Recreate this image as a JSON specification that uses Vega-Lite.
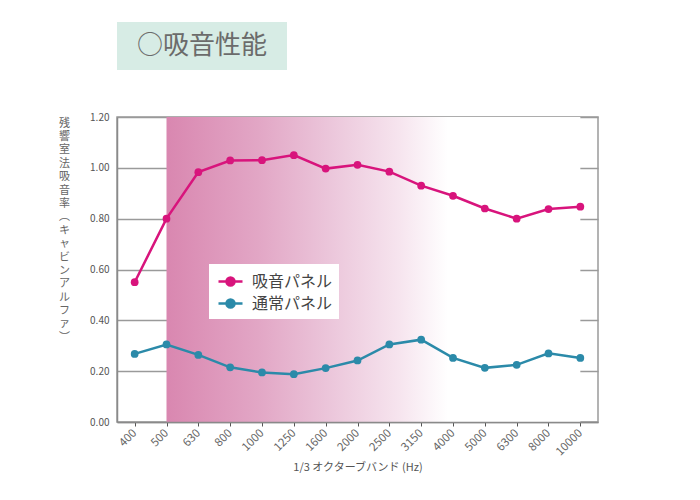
{
  "$schema": "https://vega.github.io/schema/vega-lite/v6.json",
  "background": "white",
  "padding": {"left": 57, "top": 22, "right": 5, "bottom": 5},
  "spacing": 41,
  "config": {
    "font": "Noto Sans CJK JP",
    "view": {"stroke": "#9a9a9a", "strokeWidth": 1.5}
  },
  "datasets": {
    "absorb": [
      {"band": "400", "panel": "吸音パネル", "alpha": 0.55},
      {"band": "500", "panel": "吸音パネル", "alpha": 0.80},
      {"band": "630", "panel": "吸音パネル", "alpha": 0.983},
      {"band": "800", "panel": "吸音パネル", "alpha": 1.029},
      {"band": "1000", "panel": "吸音パネル", "alpha": 1.03},
      {"band": "1250", "panel": "吸音パネル", "alpha": 1.05},
      {"band": "1600", "panel": "吸音パネル", "alpha": 0.997},
      {"band": "2000", "panel": "吸音パネル", "alpha": 1.012},
      {"band": "2500", "panel": "吸音パネル", "alpha": 0.985},
      {"band": "3150", "panel": "吸音パネル", "alpha": 0.93},
      {"band": "4000", "panel": "吸音パネル", "alpha": 0.89},
      {"band": "5000", "panel": "吸音パネル", "alpha": 0.84},
      {"band": "6300", "panel": "吸音パネル", "alpha": 0.80},
      {"band": "8000", "panel": "吸音パネル", "alpha": 0.838},
      {"band": "10000", "panel": "吸音パネル", "alpha": 0.847},
      {"band": "400", "panel": "通常パネル", "alpha": 0.268},
      {"band": "500", "panel": "通常パネル", "alpha": 0.305},
      {"band": "630", "panel": "通常パネル", "alpha": 0.264},
      {"band": "800", "panel": "通常パネル", "alpha": 0.215},
      {"band": "1000", "panel": "通常パネル", "alpha": 0.195},
      {"band": "1250", "panel": "通常パネル", "alpha": 0.188},
      {"band": "1600", "panel": "通常パネル", "alpha": 0.212},
      {"band": "2000", "panel": "通常パネル", "alpha": 0.242},
      {"band": "2500", "panel": "通常パネル", "alpha": 0.305},
      {"band": "3150", "panel": "通常パネル", "alpha": 0.324},
      {"band": "4000", "panel": "通常パネル", "alpha": 0.252},
      {"band": "5000", "panel": "通常パネル", "alpha": 0.213},
      {"band": "6300", "panel": "通常パネル", "alpha": 0.225},
      {"band": "8000", "panel": "通常パネル", "alpha": 0.27},
      {"band": "10000", "panel": "通常パネル", "alpha": 0.252}
    ],
    "shade": [{"from": "500", "to": "10000"}],
    "heading": [{"heading": "○吸音性能"}]
  },
  "vconcat": [
    {
      "width": 170,
      "height": 48,
      "view": {"fill": "#d7ece5", "stroke": null},
      "data": {"name": "heading"},
      "mark": {"type": "text", "fontSize": 26, "color": "#6b6b6b", "align": "center", "baseline": "middle"},
      "encoding": {"text": {"field": "heading"}}
    },
    {
      "width": 481,
      "height": 305,
      "encoding": {
        "x": {
          "field": "band",
          "type": "ordinal",
          "sort": null,
          "scale": {"type": "point", "padding": 0.555, "domain": ["400", "500", "630", "800", "1000", "1250", "1600", "2000", "2500", "3150", "4000", "5000", "6300", "8000", "10000"]},
          "axis": {
            "title": "1/3 オクターブバンド (Hz)",
            "titleFontSize": 11,
            "titleFontWeight": "normal",
            "titleColor": "#555555",
            "titlePadding": 4,
            "labelAngle": -45,
            "labelAlign": "right",
            "labelBaseline": "middle",
            "labelFontSize": 11.5,
            "labelColor": "#666666",
            "labelPadding": 5,
            "domainColor": "#8a8a8a",
            "domainWidth": 1.5,
            "tickColor": "#555555",
            "tickSize": 4,
            "grid": false
          }
        }
      },
      "layer": [
        {
          "data": {"name": "shade"},
          "mark": {
            "type": "rect",
            "fill": {
              "gradient": "linear",
              "x1": 0, "y1": 0, "x2": 1, "y2": 0,
              "stops": [
                {"offset": 0, "color": "#d987b0"},
                {"offset": 0.22, "color": "#e2a6c5"},
                {"offset": 0.39, "color": "#ebc5da"},
                {"offset": 0.56, "color": "#f6e4ee"},
                {"offset": 0.68, "color": "#ffffff"},
                {"offset": 1, "color": "#ffffff"}
              ]
            }
          },
          "encoding": {
            "x": {"field": "from", "type": "ordinal"},
            "x2": {"field": "to"}
          }
        },
        {
          "data": {"name": "absorb"},
          "mark": {"type": "line", "strokeWidth": 2.5, "point": {"filled": true, "size": 60, "opacity": 1}},
          "encoding": {
            "y": {
              "field": "alpha",
              "type": "quantitative",
              "scale": {"domain": [0, 1.2], "nice": false},
              "axis": {
                "values": [0, 0.2, 0.4, 0.6, 0.8, 1.0, 1.2],
                "format": ".2f",
                "title": ["残", "響", "室", "法", "吸", "音", "率", "︵", "キ", "ャ", "ビ", "ン", "ア", "ル", "フ", "ァ", "︶"],
                "titleAngle": 0,
                "titleAlign": "center",
                "titleBaseline": "top",
                "titleX": -53,
                "titleY": 0,
                "titleFontSize": 11,
                "titleFontWeight": "normal",
                "titleColor": "#666666",
                "titleLineHeight": 13.4,
                "labelFontSize": 10,
                "labelColor": "#555555",
                "labelPadding": 8,
                "ticks": false,
                "domainColor": "#8a8a8a",
                "domainWidth": 1.5,
                "gridColor": "#9a9a9a",
                "gridWidth": 1.5
              }
            },
            "color": {
              "field": "panel",
              "type": "nominal",
              "scale": {"domain": ["吸音パネル", "通常パネル"], "range": ["#d8147c", "#2b8aa9"]},
              "legend": {
                "title": null,
                "orient": "none",
                "legendX": 92,
                "legendY": 242,
                "fillColor": "white",
                "padding": 6,
                "symbolOffset": 4,
                "labelFontSize": 16,
                "labelColor": "#444444",
                "labelOffset": 10,
                "rowPadding": 1,
                "symbolType": "M-1.2,0H1.2M-0.4,0A0.4,0.4 0 1 1 0.4,0A0.4,0.4 0 1 1 -0.4,0Z",
                "symbolSize": 400,
                "symbolStrokeWidth": 2.5,
                "encode": {"symbols": {"update": {"fill": {"scale": "color", "field": "value"}}}}
              }
            }
          }
        }
      ]
    }
  ]
}
